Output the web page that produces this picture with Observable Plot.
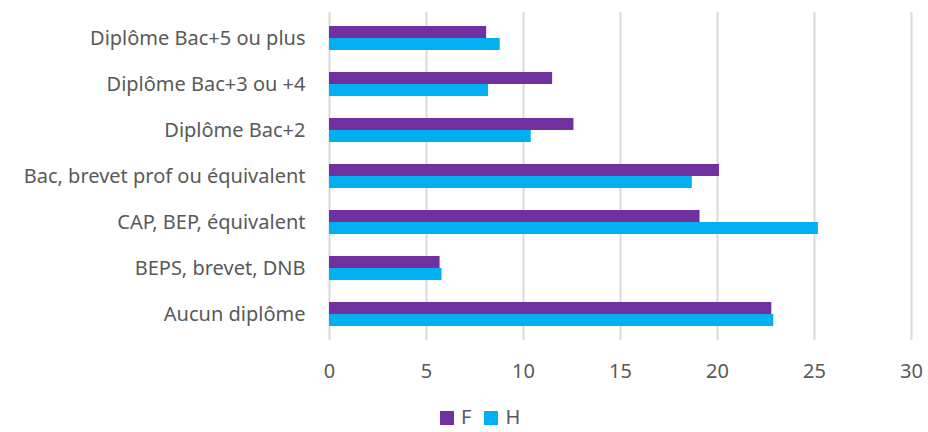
<!DOCTYPE html>
<html>
<head>
<meta charset="utf-8">
<script src="https://cdn.jsdelivr.net/npm/d3@7"></script>
<script src="https://cdn.jsdelivr.net/npm/@observablehq/plot@0.6"></script>
<style>
  html, body { margin: 0; padding: 0; background: #fff; }
  #chart { position: relative; width: 928px; height: 432px; overflow: hidden; font-family: "Noto Sans", sans-serif; color: #595959; }
  #legend { position: absolute; left: 440px; top: 407px; display: flex; gap: 13px; font-size: 20px; line-height: 20px; }
  #legend .item { display: flex; align-items: flex-end; gap: 7px; }
  #legend .sw { width: 14px; height: 14px; display: inline-block; margin-bottom: 2px; }
</style>
</head>
<body>
<div id="chart"></div>
<script>
// Education level categories, top to bottom
const categories = [
  "Diplôme Bac+5 ou plus",
  "Diplôme Bac+3 ou +4",
  "Diplôme Bac+2",
  "Bac, brevet prof ou équivalent",
  "CAP, BEP, équivalent",
  "BEPS, brevet, DNB",
  "Aucun diplôme"
];
const valuesF = [8.1, 11.5, 12.6, 20.1, 19.1, 5.7, 22.8];
const valuesH = [8.8, 8.2, 10.4, 18.7, 25.2, 5.8, 22.9];
const seriesNames = ["F", "H"];
const seriesColors = ["#7030A0", "#00B0F0"];
const xTicks = [0, 5, 10, 15, 20, 25, 30];

const rowsF = categories.map((c, i) => ({category: c, value: valuesF[i]}));
const rowsH = categories.map((c, i) => ({category: c, value: valuesH[i]}));

const chart = Plot.plot({
  width: 928,
  height: 400,
  marginTop: 12,
  marginBottom: 60,
  marginLeft: 329,
  marginRight: 17,
  style: {fontFamily: "'Noto Sans', sans-serif", fontSize: "20px", color: "#595959", background: "#fff"},
  x: {domain: [0, 30], ticks: xTicks},
  y: {domain: categories, paddingInner: 0.488, paddingOuter: 0.244},
  marks: [
    Plot.gridX(xTicks, {stroke: "#d9d9d9", strokeOpacity: 1, strokeWidth: 2}),
    // F bar in the upper half of each band, H bar in the lower half
    Plot.barX(rowsF, {x: "value", y: "category", fill: seriesColors[0], insetBottom: 12, insetTop: 0}),
    Plot.barX(rowsH, {x: "value", y: "category", fill: seriesColors[1], insetTop: 12, insetBottom: 0}),
    Plot.axisX({ticks: xTicks, tickSize: 0, tickPadding: 23, label: null}),
    Plot.axisY({tickSize: 0, tickPadding: 24, label: null})
  ]
});

const root = document.getElementById("chart");
root.appendChild(chart);

// Series legend below the plot
const legend = document.createElement("div");
legend.id = "legend";
seriesNames.forEach((name, i) => {
  const item = document.createElement("span");
  item.className = "item";
  const sw = document.createElement("span");
  sw.className = "sw";
  sw.style.background = seriesColors[i];
  item.appendChild(sw);
  item.appendChild(document.createTextNode(name));
  legend.appendChild(item);
});
root.appendChild(legend);
</script>
</body>
</html>
